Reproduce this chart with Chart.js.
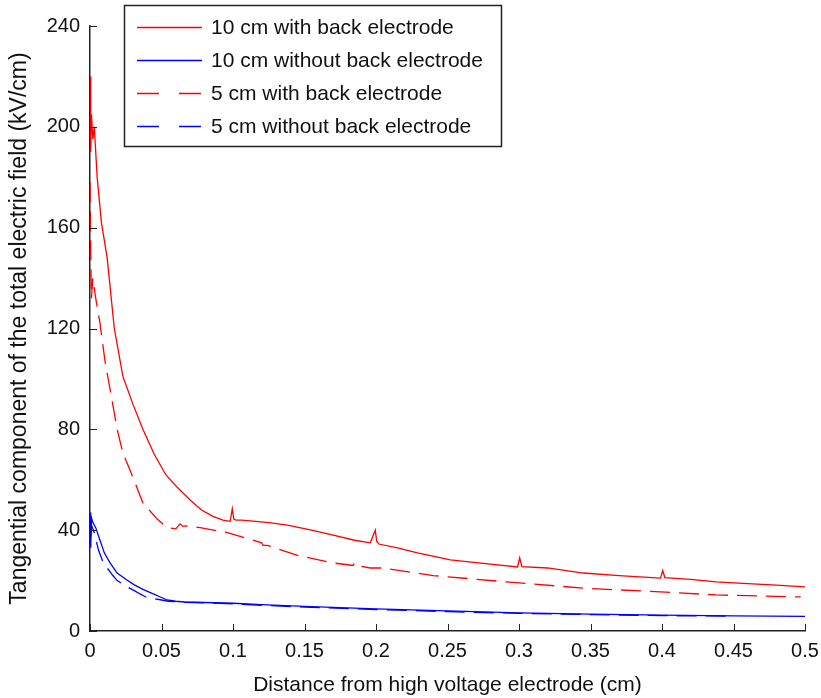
<!DOCTYPE html>
<html>
<head>
<meta charset="utf-8">
<script src="https://cdn.jsdelivr.net/npm/chart.js@4.4.1/dist/chart.umd.min.js"></script>
<style>
html,body{margin:0;padding:0;background:#fff;}
#wrap{width:821px;height:698px;position:relative;}
</style>
</head>
<body>
<div id="wrap"><canvas id="c" width="821" height="698"></canvas></div>
<script>
// ---- Data ----
const seriesLabels = [
  "10 cm with back electrode",
  "10 cm without back electrode",
  "5 cm with back electrode",
  "5 cm without back electrode"
];

const red10X = [0, 0.0005, 0.001, 0.002, 0.003, 0.005, 0.008, 0.012, 0.017, 0.023, 0.03, 0.037, 0.045, 0.053, 0.061, 0.07, 0.078, 0.086, 0.093, 0.098, 0.0995, 0.1005, 0.102, 0.106, 0.114, 0.125, 0.138, 0.155, 0.17, 0.185, 0.196, 0.1995, 0.2005, 0.202, 0.215, 0.229, 0.252, 0.275, 0.299, 0.3005, 0.302, 0.32, 0.345, 0.37, 0.399, 0.4005, 0.402, 0.42, 0.438, 0.46, 0.48, 0.5];
const red10Y = [220, 190, 205, 195, 200, 180, 162, 148, 120, 101, 90, 80, 70, 62, 57, 52, 48, 45.5, 44, 43.5, 48.5, 44.5, 44, 44, 43.6, 43, 42, 40, 38, 36, 35, 40, 35.5, 34.5, 33, 31, 28.2, 26.8, 25.4, 29, 25.5, 25, 23, 22, 21, 24, 21.2, 20.5, 19.5, 18.8, 18.2, 17.5];

const blue10X = [0, 0.0005, 0.001, 0.002, 0.004, 0.007, 0.01, 0.014, 0.019, 0.025, 0.031, 0.037, 0.043, 0.05, 0.054, 0.06, 0.066, 0.08, 0.1, 0.12, 0.15, 0.2, 0.25, 0.3, 0.35, 0.4, 0.45, 0.5];
const blue10Y = [47, 33, 45, 43, 41, 36, 31, 27, 23, 20.5, 18.3, 16.5, 15, 13.3, 12.3, 11.8, 11.5, 11.3, 11, 10.5, 9.8, 8.8, 8, 7.2, 6.7, 6.3, 6, 5.8];

const red5X = [0, 0.0005, 0.001, 0.002, 0.004, 0.007, 0.0105, 0.014, 0.019, 0.023, 0.03, 0.037, 0.047, 0.054, 0.06, 0.063, 0.065, 0.067, 0.077, 0.096, 0.105, 0.12, 0.121, 0.124, 0.145, 0.17, 0.184, 0.185, 0.186, 0.196, 0.205, 0.24, 0.291, 0.345, 0.399, 0.438, 0.497];
const red5Y = [178, 150, 132, 140, 132, 122, 107, 96, 80, 70.6, 61, 50.8, 44.4, 41, 40.5, 42.5, 41.5, 41.7, 41, 39, 37.5, 35, 34, 34, 30, 27, 26, 27, 26, 25, 25, 22, 19.5, 17, 15.5, 14.3, 13.5];

const blue5X = [0, 0.0005, 0.001, 0.003, 0.006, 0.009, 0.012, 0.016, 0.019, 0.025, 0.031, 0.035, 0.039, 0.045, 0.05, 0.055, 0.065, 0.08, 0.1, 0.12, 0.15, 0.2, 0.25, 0.3, 0.35, 0.4, 0.45];
const blue5Y = [46, 36, 42, 39, 32, 27.5, 25, 22, 20, 17.8, 16, 14.7, 13.5, 12.8, 12.3, 11.8, 11.4, 11.2, 10.8, 10.2, 9.5, 8.5, 7.7, 7, 6.5, 6.1, 5.9];

const xTickValues = [0, 0.05, 0.1, 0.15, 0.2, 0.25, 0.3, 0.35, 0.4, 0.45, 0.5];
const yTickValues = [0, 40, 80, 120, 160, 200, 240];

const xTitle = "Distance from high voltage electrode (cm)";
const yTitle = "Tangential component of the total electric field (kV/cm)";

// ---- Build chart ----
const zip = (xs, ys) => xs.map((x, i) => ({x: x, y: ys[i]}));
const RED = "#ff0000", BLUE = "#0000ff";
const FONT = "'Liberation Sans', Arial, sans-serif";

const datasets = [
  {label: seriesLabels[0], data: zip(red10X, red10Y), borderColor: RED, borderDash: []},
  {label: seriesLabels[1], data: zip(blue10X, blue10Y), borderColor: BLUE, borderDash: []},
  {label: seriesLabels[2], data: zip(red5X, red5Y), borderColor: RED, borderDash: [20, 9]},
  {label: seriesLabels[3], data: zip(blue5X, blue5Y), borderColor: BLUE, borderDash: [20, 9]}
].map(d => Object.assign(d, {borderWidth: 1.3, pointRadius: 0, tension: 0, fill: false, showLine: true}));

// inward ticks
const inwardTicks = {
  id: 'inwardTicks',
  afterDatasetsDraw(chart) {
    const ctx = chart.ctx, xs = chart.scales.x, ys = chart.scales.y;
    const a = chart.chartArea;
    ctx.save();
    ctx.strokeStyle = '#222';
    ctx.lineWidth = 1;
    ctx.beginPath();
    xTickValues.forEach(v => {
      const px = Math.round(xs.getPixelForValue(v)) + 0.5;
      ctx.moveTo(px, a.bottom); ctx.lineTo(px, a.bottom - 7);
    });
    yTickValues.forEach(v => {
      const py = Math.round(ys.getPixelForValue(v)) + 0.5;
      ctx.moveTo(a.left, py); ctx.lineTo(a.left + 7, py);
    });
    ctx.stroke();
    ctx.restore();
  }
};

// boxed legend drawn inside the plot
const boxLegend = {
  id: 'boxLegend',
  afterDraw(chart) {
    const ctx = chart.ctx;
    const bx = 124.5, by = 5.5, bw = 377, bh = 141;
    ctx.save();
    ctx.fillStyle = '#fff';
    ctx.fillRect(bx, by, bw, bh);
    ctx.strokeStyle = '#222';
    ctx.lineWidth = 1.5;
    ctx.strokeRect(bx, by, bw, bh);
    const rows = [27, 60, 93, 126];
    chart.data.datasets.forEach((ds, i) => {
      const y = rows[i];
      ctx.strokeStyle = ds.borderColor;
      ctx.lineWidth = 1.5;
      ctx.setLineDash(ds.borderDash && ds.borderDash.length ? [22, 20] : []);
      ctx.beginPath();
      ctx.moveTo(137, y + 0.5); ctx.lineTo(202, y + 0.5);
      ctx.stroke();
      ctx.setLineDash([]);
      ctx.fillStyle = '#111';
      ctx.font = "21px " + FONT;
      ctx.textBaseline = 'middle';
      ctx.textAlign = 'left';
      ctx.fillText(ds.label, 211, y + 1);
    });
    ctx.restore();
  }
};

new Chart(document.getElementById('c'), {
  type: 'line',
  data: {datasets: datasets},
  options: {
    responsive: false,
    animation: false,
    devicePixelRatio: 1,
    layout: {padding: {top: 26, right: 16, left: 0, bottom: 0}},
    plugins: {legend: {display: false}, tooltip: {enabled: false}},
    scales: {
      x: {
        type: 'linear', min: 0, max: 0.5,
        afterBuildTicks: s => { s.ticks = xTickValues.map(v => ({value: v})); },
        afterFit: s => { s.height = 67; s.paddingRight = 0; s.paddingLeft = 0; },
        grid: {display: true, drawOnChartArea: false, drawTicks: false},
        border: {display: true, color: '#222', width: 1.5},
        ticks: {
          color: '#111', padding: 8, maxRotation: 0, autoSkip: false,
          font: {family: FONT, size: 20},
          callback: v => String(Math.round(v * 100) / 100)
        },
        title: {display: true, text: xTitle, color: '#111', font: {family: FONT, size: 21}, padding: {top: 2, bottom: 0}}
      },
      y: {
        type: 'linear', min: 0, max: 240,
        afterBuildTicks: s => { s.ticks = yTickValues.map(v => ({value: v})); },
        afterFit: s => { s.width = 90; },
        grid: {display: true, drawOnChartArea: false, drawTicks: false},
        border: {display: true, color: '#222', width: 1.5},
        ticks: {
          color: '#111', padding: 10, autoSkip: false,
          font: {family: FONT, size: 20},
          callback: v => String(v)
        },
        title: {display: true, text: yTitle, color: '#111', font: {family: FONT, size: 23}, padding: {top: 6, bottom: 0}}
      }
    }
  },
  plugins: [inwardTicks, boxLegend]
});
</script>
</body>
</html>
